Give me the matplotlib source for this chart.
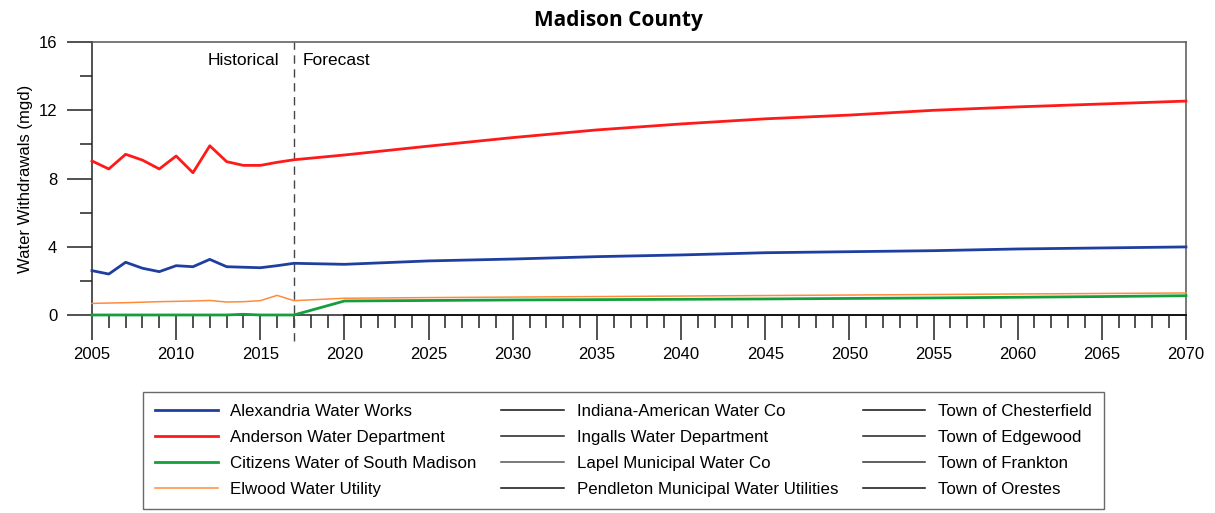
import numpy as np
import matplotlib.pyplot as plt

# years: annual history, then 5-year forecast steps
years = [2005, 2006, 2007, 2008, 2009, 2010, 2011, 2012, 2013, 2014, 2015, 2016, 2017,
         2020, 2025, 2030, 2035, 2040, 2045, 2050, 2055, 2060, 2065, 2070]
fc_years = [2020, 2025, 2030, 2035, 2040, 2045, 2050, 2055, 2060, 2065, 2070]

alexandria = [2.60, 2.40, 3.09, 2.74, 2.54, 2.89, 2.83, 3.26, 2.83, 2.80, 2.77, 2.89, 3.03,
              2.97, 3.17, 3.28, 3.42, 3.52, 3.65, 3.71, 3.77, 3.87, 3.93, 3.99]
anderson = [9.03, 8.56, 9.42, 9.08, 8.56, 9.32, 8.34, 9.92, 8.99, 8.77, 8.77, 8.95, 9.10,
            9.38, 9.90, 10.40, 10.85, 11.20, 11.50, 11.72, 12.00, 12.20, 12.37, 12.54]
citizens = [0, 0, 0, 0, 0, 0, 0, 0, 0, 0.04, 0, 0, 0,
            0.82, 0.85, 0.88, 0.90, 0.92, 0.94, 0.97, 1.00, 1.04, 1.08, 1.13]
elwood = [0.68, 0.70, 0.72, 0.75, 0.78, 0.80, 0.82, 0.85, 0.76, 0.78, 0.84, 1.15, 0.84,
          0.98, 1.02, 1.05, 1.08, 1.11, 1.14, 1.17, 1.20, 1.23, 1.26, 1.29]
others_zero = [0] * len(fc_years)

names = ["Alexandria Water Works", "Anderson Water Department",
         "Citizens Water of South Madison", "Elwood Water Utility",
         "Indiana-American Water Co", "Ingalls Water Department",
         "Lapel Municipal Water Co", "Pendleton Municipal Water Utilities",
         "Town of Chesterfield", "Town of Edgewood", "Town of Frankton",
         "Town of Orestes"]
colors = ["#1f3fa0", "#ff1a1a", "#13a03c", "#ff8c3a",
          "#111111", "#222222", "#555555", "#111111",
          "#111111", "#222222", "#333333", "#111111"]
widths = [2.0, 2.0, 2.0, 1.1, 1.1, 1.1, 1.1, 1.1, 1.1, 1.1, 1.1, 1.1]

plt.rcParams['font.family'] = ['Liberation Sans', 'DejaVu Sans']

fig = plt.figure(figsize=(12.15, 5.13), dpi=100)
ax = fig.add_axes([0.0757, 0.386, 0.9004, 0.532])

# black utilities first so coloured ones sit on top
for i in range(4, 12):
    ax.plot(fc_years, others_zero, color=colors[i], lw=widths[i], label=names[i],
            clip_on=False, zorder=3)
series = [alexandria, anderson, citizens, elwood]
for i, s in enumerate(series):
    ax.plot(years, s, color=colors[i], lw=widths[i], label=names[i],
            clip_on=False, zorder=4 if i != 3 else 3.5)

ax.set_xlim(2005, 2070)
ax.set_ylim(0, 16)
ax.set_xticks(range(2005, 2071, 5))
ax.set_xticks(range(2005, 2071, 1), minor=True)
ax.set_yticks([0, 4, 8, 12, 16])
ax.set_yticks([2, 6, 10, 14], minor=True)
ax.tick_params(which='major', direction='out', length=18, width=1.1,
               labelsize=12, color='#222222')
ax.tick_params(which='minor', direction='out', length=9, width=1.1, color='#222222')
ax.tick_params(axis='x', pad=5)
ax.tick_params(axis='y', pad=7)
for sp in ['top', 'right']:
    ax.spines[sp].set_color('#555555')
    ax.spines[sp].set_linewidth(1.1)
for sp in ['left', 'bottom']:
    ax.spines[sp].set_color('#222222')
    ax.spines[sp].set_linewidth(1.1)

ax.set_ylabel("Water Withdrawals (mgd)", fontsize=12, labelpad=4)

# historical / forecast divider
ax.plot([2017, 2017], [-1.5, 16], color='#444444', lw=1.0, ls=(0, (6, 4)),
        clip_on=False, zorder=2)
ax.text(2016.1, 14.9, "Historical", ha='right', va='center', fontsize=12.5)
ax.text(2017.5, 14.9, "Forecast", ha='left', va='center', fontsize=12.5)

fig.text(0.509, 0.961, "Madison County", ha='center', va='center',
         fontsize=15, fontweight='bold', family=['Open Sans', 'DejaVu Sans'])

handles, labels = ax.get_legend_handles_labels()
order = [8, 9, 10, 11, 0, 1, 2, 3, 4, 5, 6, 7]
leg = fig.legend([handles[k] for k in order], [labels[k] for k in order],
                 loc='upper left', bbox_to_anchor=(0.1177, 0.236), ncol=3,
                 borderaxespad=0, fontsize=12.2, frameon=True, fancybox=False,
                 edgecolor='#444444', handlelength=3.7, handletextpad=0.75,
                 columnspacing=1.45, labelspacing=0.65, borderpad=0.7)
leg.get_frame().set_linewidth(1.0)

fig.savefig("out.png", dpi=100)
